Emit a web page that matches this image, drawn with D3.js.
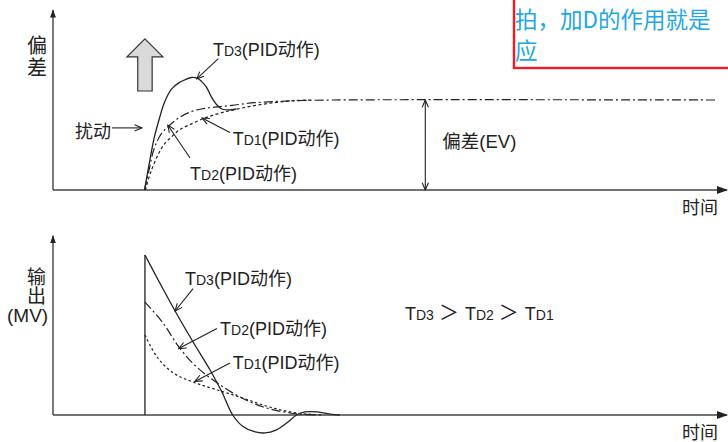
<!DOCTYPE html>
<html>
<head>
<meta charset="utf-8">
<script src="https://cdn.jsdelivr.net/npm/d3@7/dist/d3.min.js"></script>
<style>
  html, body { margin: 0; padding: 0; background: #fff; }
  svg { display: block; font-family: "Liberation Sans", Arial, "Noto Sans CJK SC", sans-serif; }
</style>
</head>
<body>
<svg id="chart"></svg>
<script>
// time axis (shared), disturbance at t = 10
const timeDomain = [0, 75];

// upper panel: deviation (EV) after a disturbance, setpoint = 1
const devTD3 = [[10, 0], [10.5, 0.28], [11.1, 0.59], [11.7, 0.81], [12.2, 0.97], [13.0, 1.12], [13.8, 1.19],
  [14.6, 1.23], [15.2, 1.25], [15.9, 1.24], [16.3, 1.21], [16.9, 1.14], [17.4, 1.04], [18.0, 0.95],
  [18.6, 0.9], [19.4, 0.89], [20.2, 0.9]];
const devTD2 = [[10, 0], [10.5, 0.22], [11.1, 0.47], [11.9, 0.63], [12.8, 0.72], [13.8, 0.8], [14.9, 0.86],
  [16.3, 0.9], [17.8, 0.92], [19.7, 0.94], [22.2, 0.97], [26.3, 0.99], [30.8, 1.0], [73.4, 1.0]];
const devTD1 = [[10.1, 0], [10.7, 0.2], [11.6, 0.41], [12.2, 0.51], [13.0, 0.59], [13.9, 0.67], [14.9, 0.72],
  [16.7, 0.8], [18.6, 0.86], [20.8, 0.91], [23.6, 0.96], [26.3, 0.99], [28.5, 1.0]];

// lower panel: controller output (MV)
const mvTD3 = [[10.05, 1.0], [11.7, 0.825], [13.4, 0.65], [15.4, 0.456], [17.3, 0.28], [18.6, 0.144],
  [19.8, 0], [20.9, -0.07], [22.3, -0.106], [23.4, -0.112], [24.6, -0.094], [25.8, -0.05], [26.9, 0],
  [27.8, 0.019], [29.2, 0.019], [30.6, 0.006], [31.7, 0]];
const mvTD2 = [[10.05, 0.706], [12.06, 0.575], [13.9, 0.419], [15.8, 0.3], [18.1, 0.2], [20.6, 0.1125],
  [23.2, 0.05], [26.2, 0.0125], [29.2, 0]];
const mvTD1 = [[10.05, 0.5], [11.4, 0.3625], [13.2, 0.2625], [15.4, 0.206], [18.1, 0.156], [20.9, 0.106],
  [23.9, 0.05], [26.9, 0.0125], [29.8, 0]];

// annotation labels: [sub, tail t, tail v, head t, head v, label t, label v]
const devNotes = [
  ["D3", 18.2, 1.46, 15.8, 1.235, 17.6, 1.49],
  ["D1", 19.5, 0.64, 16.4, 0.8, 19.8, 0.5],
  ["D2", 15.06, 0.355, 12.6, 0.72, 15.06, 0.11]
];
const mvNotes = [
  ["D3", 15.4, 0.79, 13.4, 0.65, 14.5, 0.81],
  ["D2", 18.05, 0.54, 13.8, 0.415, 18.4, 0.5],
  ["D1", 19.5, 0.325, 15.6, 0.21, 19.8, 0.29]
];

// ordering of derivative times
const tdOrder = ["D3", "D2", "D1"];

const W = 728, H = 442;
const svg = d3.select("#chart").attr("width", W).attr("height", H);

const x = d3.scaleLinear().domain(timeDomain).range([54.5, 729.5]);
const yDev = d3.scaleLinear().domain([0, 2]).range([190, 10]);
const yMv = d3.scaleLinear().domain([0, 1]).range([415, 255]);

const ink = "#222";

const defs = svg.append("defs");
defs.append("marker").attr("id", "tri")
  .attr("viewBox", "0 0 10 10").attr("refX", 9).attr("refY", 5)
  .attr("markerWidth", 7).attr("markerHeight", 7).attr("orient", "auto-start-reverse")
  .append("path").attr("d", "M0,1.5 L10,5 L0,8.5 Z").attr("fill", ink);
defs.append("marker").attr("id", "vee")
  .attr("viewBox", "0 0 10 10").attr("refX", 9).attr("refY", 5)
  .attr("markerWidth", 9).attr("markerHeight", 9).attr("orient", "auto-start-reverse")
  .attr("markerUnits", "userSpaceOnUse")
  .append("path").attr("d", "M1,1.5 L9,5 L1,8.5").attr("fill", "none").attr("stroke", ink).attr("stroke-width", 1.2);

function drawPanel(y, vMin, vMax) {
  const g = svg.append("g");
  // y axis
  g.append("line").attr("x1", x(0) - 1.5).attr("x2", x(0) - 1.5)
    .attr("y1", y(vMin)).attr("y2", y(vMax))
    .attr("stroke", ink).attr("stroke-width", 1.2).attr("marker-end", "url(#tri)");
  // x axis
  g.append("line").attr("x1", x(0) - 1.5).attr("x2", W - 1)
    .attr("y1", y(0)).attr("y2", y(0))
    .attr("stroke", "#444").attr("stroke-width", 1.6).attr("marker-end", "url(#tri)");
  g.append("text").attr("x", 682).attr("y", y(0) + 24)
    .attr("font-size", 18).attr("fill", ink).text("时间");
  return g;
}

const lineGen = y => d3.line().x(d => x(d[0])).y(d => y(d[1])).curve(d3.curveCatmullRom.alpha(0.5));

function curve(g, data, y, dash, w) {
  g.append("path").datum(data)
    .attr("d", lineGen(y))
    .attr("fill", "none").attr("stroke", ink)
    .attr("stroke-width", w || 1.2)
    .attr("stroke-dasharray", dash);
}

function note(g, n, y) {
  const [sub, t0, v0, t1, v1, tl, vl] = n;
  g.append("line").attr("x1", x(t0)).attr("y1", y(v0)).attr("x2", x(t1)).attr("y2", y(v1))
    .attr("stroke", ink).attr("stroke-width", 1.1).attr("marker-end", "url(#vee)");
  const tx = g.append("text").attr("x", x(tl)).attr("y", y(vl))
    .attr("font-size", 18).attr("fill", ink);
  tx.append("tspan").text("T");
  tx.append("tspan").attr("font-size", 14).text(sub);
  tx.append("tspan").text("(PID动作)");
}

// ---- upper panel
const upper = drawPanel(yDev, 0, 2);
curve(upper, devTD1, yDev, "3,2.5");
curve(upper, devTD2, yDev, "9,3,2,3");
curve(upper, devTD3, yDev, null, 1.3);
devNotes.forEach(n => note(upper, n, yDev));

// big up arrow (disturbance direction)
const ax = 10.05, aw = 0.8, hw = 2.0;
upper.append("path")
  .attr("d", d3.line()([
    [x(ax), yDev(1.68)], [x(ax + hw), yDev(1.48)], [x(ax + aw), yDev(1.48)], [x(ax + aw), yDev(1.1)],
    [x(ax - aw), yDev(1.1)], [x(ax - aw), yDev(1.48)], [x(ax - hw), yDev(1.48)]
  ]) + "Z")
  .attr("fill", "#dadada").attr("stroke", "#333").attr("stroke-width", 1.2);

// disturbance label
upper.append("text").attr("x", 75).attr("y", yDev(0.58)).attr("font-size", 18).attr("fill", ink).text("扰动");
upper.append("line").attr("x1", 112).attr("x2", x(9.7)).attr("y1", yDev(0.69)).attr("y2", yDev(0.69))
  .attr("stroke", ink).attr("stroke-width", 1.1).attr("marker-end", "url(#vee)");

// EV span
const evT = 41.2;
upper.append("line").attr("x1", x(evT)).attr("x2", x(evT)).attr("y1", yDev(1)).attr("y2", yDev(0))
  .attr("stroke", ink).attr("stroke-width", 1.1)
  .attr("marker-start", "url(#vee)").attr("marker-end", "url(#vee)");
upper.append("text").attr("x", x(evT) + 17).attr("y", yDev(0.47)).attr("font-size", 18.5).attr("fill", ink).text("偏差(EV)");

// y labels
upper.append("text").attr("x", 27).attr("y", 53).attr("font-size", 20).attr("fill", ink).text("偏");
upper.append("text").attr("x", 27).attr("y", 75).attr("font-size", 20).attr("fill", ink).text("差");

// ---- lower panel
const lower = drawPanel(yMv, 0, 1.12);
lower.append("line").attr("x1", x(mvTD3[0][0])).attr("x2", x(mvTD3[0][0]))
  .attr("y1", yMv(0)).attr("y2", yMv(mvTD3[0][1])).attr("stroke", ink).attr("stroke-width", 1.3);
curve(lower, mvTD1, yMv, "2.5,2.5");
curve(lower, mvTD2, yMv, "9,3,2,3");
curve(lower, mvTD3, yMv, null, 1.3);
mvNotes.forEach(n => note(lower, n, yMv));

lower.append("text").attr("x", 27).attr("y", 284).attr("font-size", 19).attr("fill", ink).text("输");
lower.append("text").attr("x", 27).attr("y", 303).attr("font-size", 19).attr("fill", ink).text("出");
lower.append("text").attr("x", 7).attr("y", 322).attr("font-size", 19).attr("fill", ink).text("(MV)");

const rel = lower.append("text").attr("x", 405).attr("y", 320).attr("font-size", 18).attr("fill", ink);
tdOrder.forEach((s, i) => {
  if (i > 0) rel.append("tspan").attr("dx", 5).attr("font-size", 20).text("＞");
  rel.append("tspan").attr("dx", i > 0 ? 6 : 0).text("T");
  rel.append("tspan").attr("font-size", 14).text(s);
});

// ---- overlay note box (upper right)
svg.append("rect").attr("x", 514).attr("y", -5).attr("width", 230).attr("height", 73)
  .attr("fill", "#fff").attr("stroke", "#ee1c25").attr("stroke-width", 2.4);
svg.append("text").attr("x", 515).attr("y", 28).attr("font-size", 22.5).attr("fill", "#1ea7e6")
  .attr("font-family", "'Noto Sans CJK SC', sans-serif").text("拍，加D的作用就是");
svg.append("text").attr("x", 515).attr("y", 59).attr("font-size", 22.5).attr("fill", "#1ea7e6")
  .attr("font-family", "'Noto Sans CJK SC', sans-serif").text("应");
</script>
</body>
</html>
